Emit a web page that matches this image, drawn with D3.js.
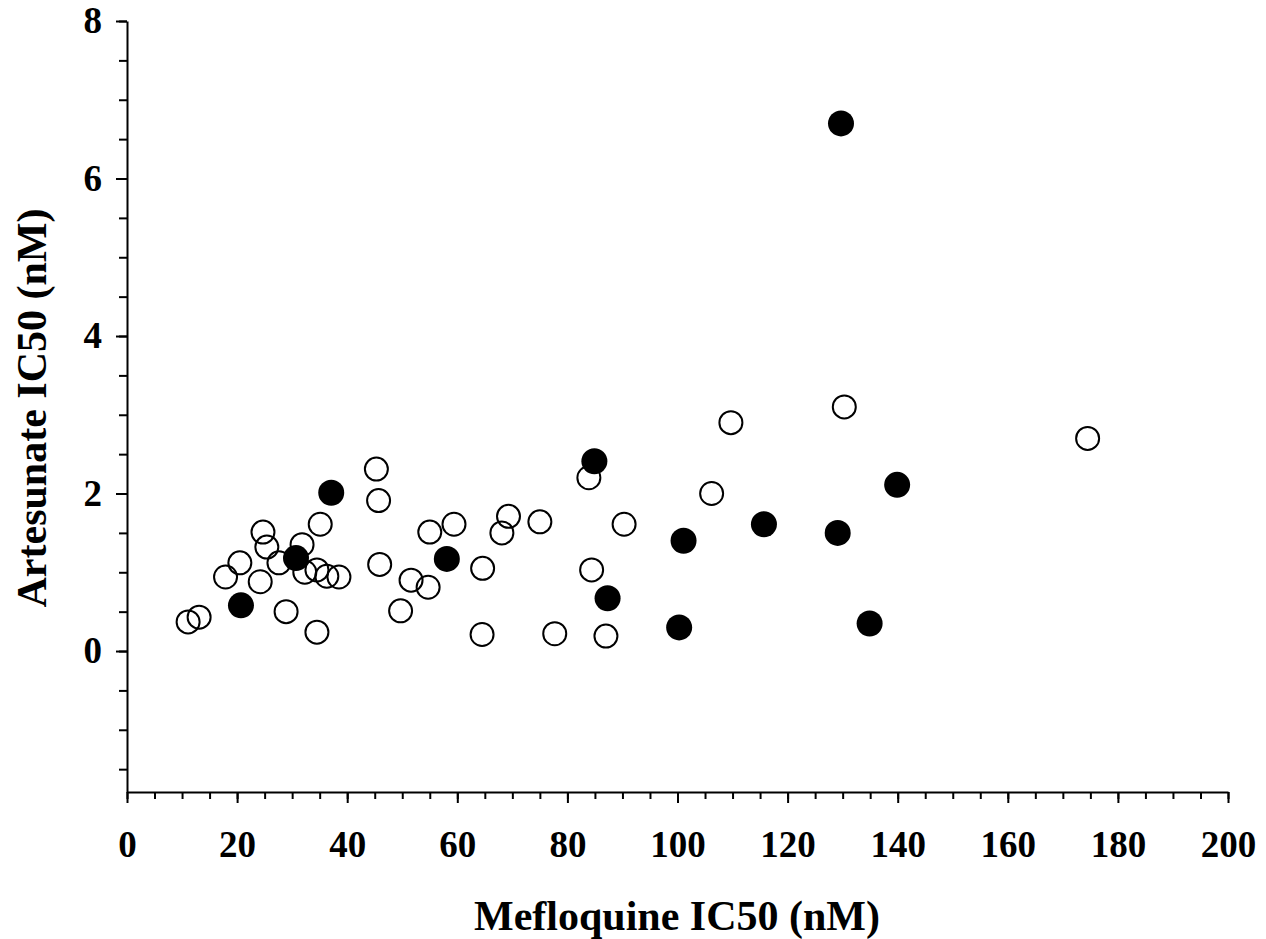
<!DOCTYPE html>
<html>
<head>
<meta charset="utf-8">
<script src="https://cdn.jsdelivr.net/npm/d3@7"></script>
<style>
  body { margin: 0; background: white; }
  text { font-family: "Liberation Serif", "Times New Roman", serif; font-weight: bold; }
</style>
</head>
<body>
<div id="my_viz"></div>
<script>
var width = 1266,
    height = 939;

// open circles: mefloquine / artesunate IC50
var openMef = [11.1, 13.1, 17.9, 20.5, 24.7, 25.4, 24.2, 27.6, 28.9, 31.8, 32.3, 34.5, 34.5, 35.1, 36.3, 38.5,
    45.3, 45.7, 45.9, 49.7, 51.6, 54.7, 55.0, 59.4, 64.5, 64.6, 68.1, 69.3, 75.0, 77.7, 83.9, 84.4, 87.0, 90.3,
    106.2, 109.7, 130.3, 174.5];
var openArt = [0.37, 0.43, 0.94, 1.12, 1.51, 1.32, 0.88, 1.12, 0.50, 1.35, 1.00, 1.03, 0.24, 1.61, 0.95, 0.94,
    2.31, 1.91, 1.10, 0.51, 0.90, 0.81, 1.51, 1.61, 0.21, 1.05, 1.50, 1.71, 1.64, 0.22, 2.20, 1.03, 0.19, 1.61,
    2.00, 2.90, 3.10, 2.70];

// filled circles
var fillMef = [20.7, 30.7, 37.1, 58.1, 84.9, 87.3, 100.3, 101.1, 115.7, 129.1, 129.7, 134.9, 139.9];
var fillArt = [0.58, 1.18, 2.01, 1.17, 2.41, 0.67, 0.30, 1.40, 1.61, 1.50, 6.70, 0.35, 2.11];

var xTicks = [0, 20, 40, 60, 80, 100, 120, 140, 160, 180, 200];
var yTicks = [0, 2, 4, 6, 8];

var svg = d3.select("#my_viz")
    .append("svg")
    .attr("width", width)
    .attr("height", height)
    .style("background", "white");

var x = d3.scaleLinear().domain([0, 200]).range([127, 1228]);
var y = d3.scaleLinear().domain([-1.79, 8]).range([792, 21]);

// x axis: minor ticks every 5, labels every 20
svg.append("g")
    .attr("transform", "translate(0,792)")
    .call(d3.axisBottom(x).tickValues(d3.range(0, 201, 5)).tickSize(7).tickFormat(""))
    .call(function (g) { g.select(".domain").remove(); });

svg.append("g")
    .attr("transform", "translate(0,792)")
    .call(d3.axisBottom(x).tickValues(xTicks).tickSize(11).tickPadding(28).tickSizeOuter(0))
    .attr("font-size", 37)
    .attr("font-family", null);

// y axis: minor ticks every 0.5, labels every 2
svg.append("g")
    .attr("transform", "translate(127,0)")
    .call(d3.axisLeft(y).tickValues(d3.range(-1.5, 8.01, 0.5)).tickSize(8).tickFormat(""))
    .call(function (g) { g.select(".domain").remove(); });

svg.append("g")
    .attr("transform", "translate(127,0)")
    .call(d3.axisLeft(y).tickValues(yTicks).tickSize(11).tickPadding(14).tickSizeOuter(0))
    .attr("font-size", 37)
    .attr("font-family", null);

svg.selectAll(".domain, .tick line").attr("stroke", "#000").attr("stroke-width", 2);
svg.selectAll(".tick text").attr("fill", "#000");

var openPts = openMef.map(function (d, i) { return { mef: d, art: openArt[i] }; });
var fillPts = fillMef.map(function (d, i) { return { mef: d, art: fillArt[i] }; });

svg.append("g").selectAll("circle").data(openPts)
    .enter().append("circle")
    .attr("cx", function (d) { return x(d.mef); })
    .attr("cy", function (d) { return y(d.art); })
    .attr("r", 11.5)
    .attr("fill", "none")
    .attr("stroke", "#000")
    .attr("stroke-width", 2);

svg.append("g").selectAll("circle").data(fillPts)
    .enter().append("circle")
    .attr("cx", function (d) { return x(d.mef); })
    .attr("cy", function (d) { return y(d.art); })
    .attr("r", 13)
    .attr("fill", "#000");

svg.append("text")
    .attr("x", 677)
    .attr("y", 930)
    .attr("text-anchor", "middle")
    .attr("font-size", 42)
    .text("Mefloquine IC50 (nM)");

svg.append("text")
    .attr("transform", "translate(46,408) rotate(-90)")
    .attr("text-anchor", "middle")
    .attr("font-size", 42)
    .text("Artesunate IC50 (nM)");
</script>
</body>
</html>
